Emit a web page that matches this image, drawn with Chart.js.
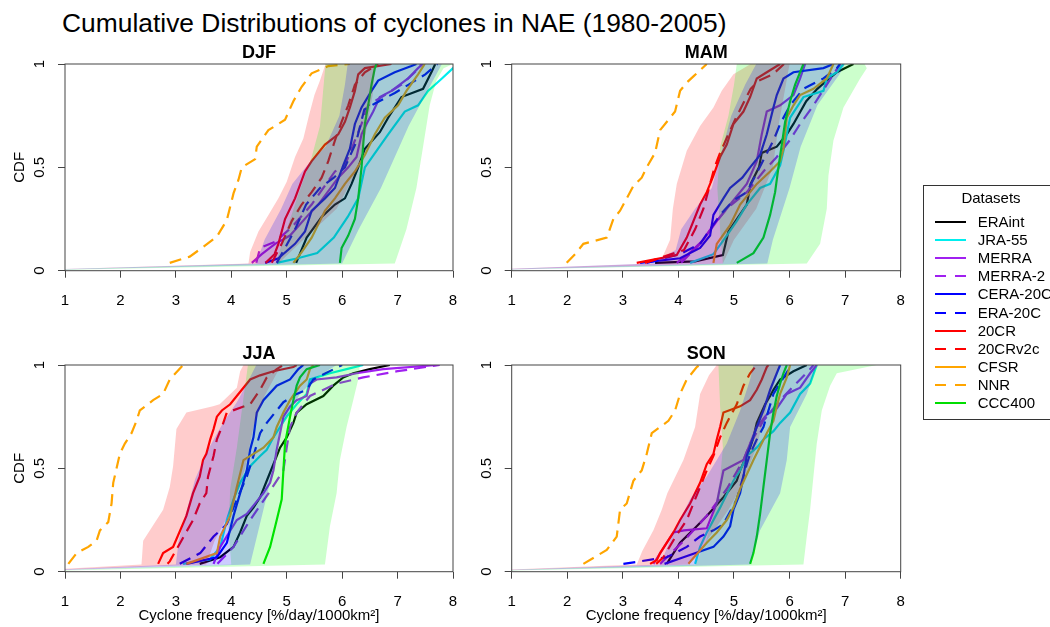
<!DOCTYPE html>
<html><head><meta charset="utf-8">
<script src="https://cdn.jsdelivr.net/npm/chart.js@4.4.0/dist/chart.umd.min.js"></script>
<style>
html,body{margin:0;padding:0;background:#fff;}
body{width:1050px;height:627px;position:relative;overflow:hidden;font-family:"Liberation Sans",Arial,sans-serif;color:#000;}
canvas{position:absolute;}
#title{position:absolute;left:62px;top:8px;font-size:26.4px;line-height:30px;white-space:nowrap;}
#legend{position:absolute;left:923px;top:185px;width:140px;height:235px;border:1px solid #333;box-sizing:border-box;}
.lg{position:absolute;font-size:15px;line-height:18px;white-space:nowrap;}
</style></head>
<body>
<div id="title">Cumulative Distributions of cyclones in NAE (1980-2005)</div>
<canvas id="cDJF" width="480" height="281" style="left:0px;top:35px"></canvas>
<canvas id="cMAM" width="470" height="281" style="left:466px;top:35px"></canvas>
<canvas id="cJJA" width="480" height="291" style="left:0px;top:336px"></canvas>
<canvas id="cSON" width="470" height="291" style="left:466px;top:336px"></canvas>
<div id="legend"></div>
<script>
// ---------- tick values ----------
const X_TICKS = [1, 2, 3, 4, 5, 6, 7, 8];
const Y_TICKS = [0, 0.5, 1];
const SERIES = ['ERAint','JRA-55','MERRA','MERRA-2','CERA-20C','ERA-20C','20CR','20CRv2c','CFSR','NNR','CCC400'];

// ---------- DJF ----------
const DJF_ERAint = [[5.17,.038],[5.36,.16],[5.63,.26],[5.87,.32],[6.05,.35],[6.17,.42],[6.29,.5],[6.41,.59],[6.68,.67],[6.83,.74],[7.07,.84],[7.46,.88],[7.61,.96],[7.68,1]];
const DJF_JRA55 = [[4.82,.038],[5.2,.06],[5.55,.085],[5.85,.16],[6.1,.26],[6.29,.35],[6.41,.5],[6.62,.58],[6.83,.66],[7.13,.77],[7.37,.8],[7.55,.87],[7.8,.93],[8.0,.98],[8.1,1]];
const DJF_MERRA = [[4.37,.038],[4.55,.08],[4.79,.13],[5.06,.17],[5.39,.27],[5.57,.32],[5.93,.45],[6.11,.5],[6.26,.55],[6.35,.66],[6.44,.71],[6.56,.77],[6.68,.84],[6.89,.87],[7.19,.93],[7.37,.98],[7.46,1]];
const DJF_MERRA2 = [[4.45,.038],[4.52,.11],[4.79,.14],[5.09,.21],[5.45,.32],[5.87,.48],[6.05,.51],[6.17,.59],[6.35,.71],[6.47,.8],[6.77,.85],[7.07,.9],[7.31,.96],[7.43,1]];
const DJF_CERA20C = [[4.61,.038],[4.85,.06],[5.15,.13],[5.33,.19],[5.45,.29],[5.69,.35],[5.87,.4],[6.02,.51],[6.14,.59],[6.23,.71],[6.35,.79],[6.53,.87],[6.65,.92],[6.95,.96],[7.25,.99],[7.34,1]];
const DJF_ERA20C = [[4.82,.038],[4.95,.1],[5.15,.2],[5.35,.32],[5.6,.4],[5.85,.45],[6.05,.5],[6.25,.62],[6.4,.78],[6.6,.81],[6.95,.86],[7.2,.9],[7.5,.95],[7.72,1]];
const DJF_20CR = [[4.62,.038],[4.78,.08],[4.85,.13],[4.97,.25],[5.15,.35],[5.33,.48],[5.45,.53],[5.69,.61],[5.93,.66],[6.05,.72],[6.14,.79],[6.23,.87],[6.29,.95],[6.41,.98],[6.89,1]];
const DJF_20CRv2c = [[4.73,.038],[4.91,.13],[5.09,.24],[5.27,.32],[5.45,.38],[5.63,.45],[5.75,.53],[5.87,.63],[5.99,.72],[6.11,.8],[6.23,.9],[6.41,.96],[6.65,1]];
const DJF_CFSR = [[5.12,.038],[5.27,.09],[5.45,.16],[5.69,.29],[5.87,.35],[6.05,.42],[6.23,.48],[6.41,.56],[6.59,.66],[6.77,.74],[7.01,.8],[7.16,.87],[7.37,.95],[7.49,1]];
const DJF_NNR = [[2.89,.038],[3.25,.068],[3.5,.116],[3.74,.165],[3.92,.245],[4.04,.374],[4.13,.44],[4.19,.5],[4.43,.54],[4.46,.6],[4.67,.68],[4.97,.73],[5.12,.82],[5.27,.89],[5.45,.955],[5.75,.99],[6.14,1]];
const DJF_CCC400 = [[5.96,.038],[5.99,.11],[6.11,.17],[6.23,.25],[6.29,.35],[6.35,.5],[6.38,.61],[6.41,.71],[6.47,.8],[6.53,.9],[6.59,.98],[6.62,1]];
// ensemble spreads (left edge / right edge)
const DJF_20CR_LO = [[0,0],[4.31,.035],[4.34,.09],[4.49,.19],[4.67,.27],[4.85,.35],[5.0,.43],[5.15,.55],[5.3,.64],[5.4,.75],[5.5,.85],[5.6,.92],[5.7,1]];
const DJF_20CR_HI = [[0,0],[4.85,.035],[5.3,.15],[5.9,.3],[6.3,.5],[6.45,.7],[6.55,.85],[6.6,1]];
const DJF_CERA_LO = [[0,0],[4.45,.035],[4.6,.15],[4.9,.3],[5.1,.42],[5.4,.52],[5.7,.6],[5.95,.75],[6.05,.9],[6.1,1]];
const DJF_CERA_HI = [[0,0],[6.0,.035],[6.3,.2],[6.7,.4],[6.95,.55],[7.2,.7],[7.5,.85],[7.8,1]];
const DJF_CCC_LO = [[0,0],[4.8,.035],[5.0,.2],[5.25,.4],[5.45,.55],[5.6,.7],[5.65,.85],[5.7,1]];
const DJF_CCC_HI = [[0,0],[6.95,.035],[7.16,.2],[7.34,.4],[7.46,.6],[7.58,.8],[7.7,.92],[7.83,.98],[8.0,1]];

// ---------- MAM ----------
const MAM_ERAint = [[3.58,.038],[4.3,.045],[4.8,.075],[4.9,.19],[5.23,.32],[5.3,.42],[5.45,.5],[5.5,.57],[5.77,.6],[5.95,.66],[6.07,.71],[6.3,.82],[6.5,.88],[6.67,.92],[6.85,.96],[7.15,1]];
const MAM_JRA55 = [[4.21,.038],[4.63,.08],[4.87,.17],[5.05,.24],[5.23,.32],[5.47,.4],[5.65,.42],[5.83,.51],[5.89,.58],[6.01,.74],[6.25,.84],[6.61,.87],[6.67,.93],[6.85,.96],[6.97,1]];
const MAM_MERRA = [[3.97,.038],[4.18,.08],[4.45,.15],[4.69,.24],[4.93,.32],[5.23,.42],[5.41,.53],[5.5,.66],[5.59,.77],[5.83,.8],[6.07,.85],[6.19,.93],[6.28,1]];
const MAM_MERRA2 = [[4.05,.038],[4.39,.13],[4.63,.22],[4.87,.3],[5.23,.38],[5.53,.48],[5.77,.55],[6.0,.63],[6.19,.71],[6.43,.8],[6.67,.9],[6.79,.95],[6.91,1]];
const MAM_CERA20C = [[3.31,.038],[4.03,.06],[4.39,.11],[4.57,.17],[4.63,.27],[4.81,.35],[4.93,.4],[5.15,.45],[5.29,.5],[5.47,.56],[5.59,.66],[5.71,.79],[5.77,.85],[5.89,.93],[6.07,.96],[6.61,.98],[6.79,1]];
const MAM_ERA20C = [[3.43,.038],[4.03,.08],[4.39,.13],[4.75,.27],[4.99,.34],[5.23,.38],[5.5,.52],[5.71,.63],[5.83,.71],[6.01,.8],[6.25,.88],[6.61,.93],[6.85,.98],[6.91,1]];
const MAM_20CR = [[3.25,.038],[3.97,.076],[4.15,.16],[4.27,.24],[4.39,.32],[4.51,.38],[4.63,.46],[4.75,.55],[4.87,.61],[4.99,.71],[5.17,.77],[5.29,.84],[5.41,.93],[5.59,.96],[5.83,1]];
const MAM_20CRv2c = [[3.4,.038],[4.1,.1],[4.3,.2],[4.45,.3],[4.55,.4],[4.65,.5],[4.75,.57],[4.9,.66],[5.0,.72],[5.15,.8],[5.3,.88],[5.45,.92],[5.7,.95],[5.9,1]];
const MAM_CFSR = [[4.63,.038],[4.69,.13],[4.93,.22],[5.11,.32],[5.41,.42],[5.65,.48],[5.83,.53],[5.89,.59],[5.95,.74],[6.07,.8],[6.19,.85],[6.43,.88],[6.67,.93],[6.79,1]];
const MAM_NNR = [[1.99,.038],[2.14,.08],[2.29,.13],[2.71,.16],[2.83,.25],[2.95,.29],[3.19,.41],[3.34,.45],[3.43,.5],[3.58,.57],[3.67,.68],[3.82,.73],[3.94,.77],[4.03,.87],[4.15,.91],[4.27,.94],[4.51,1]];
const MAM_CCC400 = [[5.05,.038],[5.35,.085],[5.53,.16],[5.65,.27],[5.74,.38],[5.8,.5],[5.86,.61],[5.92,.72],[6.01,.82],[6.1,.9],[6.19,.96],[6.25,1]];
const MAM_20CR_LO = [[0,0],[3.6,.035],[3.72,.07],[3.85,.15],[3.9,.3],[3.97,.42],[4.15,.58],[4.39,.7],[4.63,.79],[4.78,.87],[4.99,.95],[5.3,1]];
const MAM_20CR_HI = [[0,0],[4.8,.035],[5.0,.15],[5.4,.3],[5.7,.5],[5.8,.7],[5.9,.85],[6.0,1]];
const MAM_CERA_LO = [[0,0],[3.5,.035],[3.95,.1],[4.05,.2],[4.3,.3],[4.6,.4],[4.75,.55],[4.95,.75],[5.2,.9],[5.4,1]];
const MAM_CERA_HI = [[0,0],[5.6,.035],[5.7,.15],[6.0,.4],[6.2,.6],[6.5,.8],[6.9,.95],[7.0,1]];
const MAM_CCC_LO = [[0,0],[4.8,.035],[4.75,.2],[4.7,.4],[4.75,.6],[4.9,.75],[5.0,.9],[5.05,1]];
const MAM_CCC_HI = [[0,0],[6.31,.035],[6.55,.13],[6.67,.3],[6.7,.46],[6.79,.63],[6.97,.79],[7.27,.93],[7.39,.98],[7.35,1]];

// ---------- JJA ----------
const JJA_ERAint = [[3.43,.038],[3.8,.07],[4.04,.12],[4.16,.19],[4.28,.27],[4.4,.31],[4.52,.36],[4.64,.44],[4.76,.52],[4.88,.6],[5.0,.65],[5.12,.72],[5.18,.77],[5.36,.81],[5.66,.85],[5.84,.9],[6.02,.94],[6.2,.96],[6.5,.98],[6.86,1]];
const JJA_JRA55 = [[3.13,.038],[3.62,.06],[3.8,.12],[3.92,.25],[4.04,.35],[4.16,.43],[4.34,.51],[4.52,.56],[4.64,.59],[4.76,.65],[4.88,.7],[5.0,.75],[5.18,.81],[5.36,.86],[5.42,.93],[5.78,.96],[6.08,.98],[6.38,1]];
const JJA_MERRA = [[3.68,.038],[3.8,.12],[4.1,.25],[4.28,.28],[4.58,.38],[4.7,.43],[4.76,.49],[4.82,.59],[4.94,.75],[5.06,.8],[5.18,.83],[5.36,.85],[5.42,.91],[5.54,.93],[5.9,.94],[6.26,.96],[6.74,.98],[7.71,1]];
const JJA_MERRA2 = [[3.75,.038],[4.04,.12],[4.34,.25],[4.65,.37],[4.94,.49],[5.0,.6],[5.06,.7],[5.18,.77],[5.42,.85],[5.9,.91],[6.38,.94],[7.0,.97],[7.76,1]];
const JJA_CERA20C = [[3.19,.038],[3.74,.07],[3.92,.14],[4.04,.27],[4.16,.38],[4.28,.49],[4.34,.59],[4.4,.65],[4.46,.77],[4.58,.83],[4.82,.9],[5.06,.93],[5.21,.98],[5.3,1]];
const JJA_ERA20C = [[3.07,.038],[3.44,.09],[3.68,.17],[3.92,.23],[4.1,.35],[4.28,.46],[4.4,.56],[4.52,.67],[4.64,.72],[4.94,.82],[5.18,.86],[5.36,.88],[5.48,.93],[5.7,.96],[6.0,1]];
const JJA_20CR = [[2.68,.038],[2.77,.09],[2.95,.12],[3.19,.27],[3.31,.38],[3.43,.46],[3.49,.54],[3.55,.57],[3.62,.64],[3.68,.69],[3.74,.75],[3.83,.78],[3.98,.81],[4.34,.93],[4.52,.95],[4.76,.97],[5.12,.99],[5.18,1]];
const JJA_20CRv2c = [[2.85,.038],[2.89,.05],[3.1,.15],[3.31,.25],[3.43,.33],[3.55,.38],[3.58,.46],[3.68,.56],[3.74,.64],[3.83,.7],[3.92,.77],[4.34,.81],[4.52,.88],[4.64,.94],[4.82,.98],[4.94,1]];
const JJA_CFSR = [[3.19,.038],[3.74,.09],[3.8,.17],[3.98,.27],[4.1,.41],[4.22,.54],[4.58,.6],[4.76,.65],[4.82,.7],[4.94,.77],[5.06,.83],[5.24,.9],[5.36,.93],[5.42,.98],[5.48,1]];
const JJA_NNR = [[1.06,.038],[1.21,.09],[1.42,.12],[1.57,.15],[1.63,.2],[1.78,.24],[1.84,.33],[1.87,.43],[1.99,.57],[2.08,.62],[2.2,.67],[2.29,.73],[2.35,.78],[2.59,.83],[2.77,.86],[2.89,.93],[3.13,1]];
const JJA_CCC400 = [[4.58,.038],[4.7,.12],[4.82,.25],[4.91,.35],[4.94,.49],[4.97,.62],[5.06,.75],[5.12,.83],[5.18,.9],[5.24,.94],[5.36,.98],[5.6,1]];
const JJA_20CR_LO = [[0,0],[2.38,.035],[2.41,.15],[2.77,.3],[2.89,.41],[2.95,.51],[3.01,.69],[3.19,.77],[3.67,.8],[3.79,.81],[4.1,.89],[4.16,.97],[4.22,1]];
const JJA_20CR_HI = [[0,0],[3.55,.035],[3.7,.15],[4.0,.3],[4.25,.5],[4.4,.7],[4.6,.85],[4.9,1]];
const JJA_CERA_LO = [[0,0],[3.0,.035],[3.05,.15],[3.2,.3],[3.35,.45],[3.6,.6],[3.85,.72],[4.1,.82],[4.3,.92],[4.45,1]];
const JJA_CERA_HI = [[0,0],[4.34,.035],[4.58,.3],[4.76,.5],[4.88,.7],[5.24,.86],[5.54,.94],[5.9,1]];
const JJA_CCC_LO = [[0,0],[4.0,.035],[3.95,.2],[3.98,.4],[4.1,.6],[4.2,.8],[4.3,1]];
const JJA_CCC_HI = [[0,0],[5.69,.035],[5.78,.22],[5.9,.38],[5.96,.54],[6.08,.7],[6.2,.83],[6.29,.93],[6.32,1]];

// ---------- SON ----------
const SON_ERAint = [[3.79,.038],[4.03,.14],[4.33,.22],[4.51,.27],[4.81,.36],[4.93,.4],[5.05,.44],[5.11,.49],[5.29,.6],[5.35,.65],[5.41,.72],[5.56,.81],[5.65,.85],[5.71,.88],[5.83,.93],[6.07,.97],[6.31,1]];
const SON_JRA55 = [[4.3,.038],[4.39,.12],[4.51,.19],[4.75,.31],[4.99,.44],[5.11,.49],[5.23,.56],[5.41,.6],[5.53,.64],[5.71,.68],[5.83,.72],[6.01,.77],[6.19,.86],[6.37,.91],[6.49,1]];
const SON_MERRA = [[3.55,.038],[3.91,.19],[4.1,.2],[4.51,.21],[4.69,.33],[4.81,.49],[5.17,.54],[5.29,.62],[5.41,.7],[5.59,.76],[5.77,.79],[5.95,.86],[6.19,.89],[6.37,.96],[6.49,1]];
const SON_MERRA2 = [[3.67,.038],[4.1,.15],[4.51,.27],[4.87,.4],[5.17,.54],[5.29,.62],[5.53,.73],[5.83,.83],[6.19,.93],[6.37,.98],[6.43,1]];
const SON_CERA20C = [[3.75,.038],[4.09,.07],[4.63,.12],[4.81,.17],[4.93,.22],[4.99,.3],[5.11,.38],[5.17,.46],[5.23,.56],[5.41,.7],[5.53,.78],[5.65,.88],[5.77,.96],[5.83,1]];
const SON_ERA20C = [[3.01,.038],[3.31,.05],[3.79,.07],[4.15,.12],[4.39,.17],[4.63,.2],[4.81,.23],[5.05,.35],[5.23,.52],[5.29,.57],[5.41,.64],[5.53,.7],[5.71,.86],[6.01,.99],[6.04,1]];
const SON_20CR = [[3.49,.038],[3.61,.056],[3.67,.09],[3.91,.19],[4.03,.25],[4.21,.33],[4.39,.43],[4.51,.52],[4.63,.57],[4.69,.64],[4.75,.7],[4.81,.77],[5.11,.8],[5.29,.83],[5.41,.88],[5.5,.93],[5.59,.99],[5.62,1]];
const SON_20CRv2c = [[3.6,.038],[3.73,.07],[3.95,.17],[4.15,.25],[4.39,.41],[4.51,.49],[4.63,.56],[4.75,.65],[4.87,.72],[5.05,.81],[5.17,.9],[5.29,.96],[5.41,1]];
const SON_CFSR = [[4.18,.038],[4.51,.14],[4.69,.19],[4.87,.25],[4.99,.31],[5.11,.4],[5.35,.54],[5.59,.67],[5.71,.73],[5.77,.8],[5.83,.86],[5.95,.94],[6.01,1]];
const SON_NNR = [[2.29,.038],[2.71,.105],[2.89,.17],[2.95,.3],[3.07,.33],[3.19,.44],[3.34,.49],[3.43,.57],[3.52,.67],[3.67,.7],[3.82,.73],[3.94,.78],[4.03,.86],[4.15,.93],[4.33,.99],[4.39,1]];
const SON_CCC400 = [[5.29,.038],[5.35,.09],[5.41,.17],[5.47,.28],[5.53,.41],[5.59,.54],[5.65,.67],[5.71,.77],[5.77,.85],[5.83,.91],[5.89,.96],[5.95,1]];
const SON_20CR_LO = [[0,0],[3.25,.035],[3.35,.1],[3.55,.2],[3.7,.3],[3.8,.38],[4.09,.54],[4.3,.7],[4.39,.86],[4.55,.95],[4.69,1]];
const SON_20CR_HI = [[0,0],[4.2,.035],[4.51,.15],[4.9,.3],[5.11,.4],[5.4,.6],[5.6,.8],[5.83,1]];
const SON_CERA_LO = [[0,0],[3.67,.035],[3.91,.19],[4.21,.35],[4.51,.46],[4.69,.54],[4.87,.62],[5.11,.78],[5.29,.93],[5.35,1]];
const SON_CERA_HI = [[0,0],[5.29,.035],[5.47,.2],[5.83,.38],[5.95,.54],[6.01,.7],[6.31,.86],[6.49,1]];
const SON_CCC_LO = [[0,0],[4.3,.035],[4.5,.15],[4.65,.3],[4.75,.45],[4.8,.6],[4.75,.8],[4.72,1]];
const SON_CCC_HI = [[0,0],[6.25,.035],[6.31,.17],[6.37,.3],[6.43,.46],[6.49,.62],[6.58,.78],[6.73,.9],[6.85,.96],[7.57,1]];

// ---------- styles ----------
const FONT = '"Liberation Sans", Arial, Helvetica, sans-serif';
const COLORS = ['#000000','#00EEEE','#A020F0','#A020F0','#0000FF','#0000FF','#FF0000','#FF0000','#FFA500','#FFA500','#00DD00'];
const DASHED = [false,false,false,true,false,true,false,true,false,true,false];
const BAND_COLORS = ['rgba(255,0,0,0.2)','rgba(0,0,255,0.2)','rgba(0,255,0,0.2)'];
const BAND_STACK = [1, 2, 0]; // blue on top, then green, red underneath
const DASH = [12, 7];

const boxPlugin = {
  id: 'box',
  afterDraw(chart) {
    const {ctx, chartArea: a} = chart;
    ctx.save();
    ctx.strokeStyle = '#444';
    ctx.lineWidth = 1;
    ctx.strokeRect(a.left, a.top, a.right - a.left, a.bottom - a.top);
    ctx.restore();
  }
};

function toPts(arr) { return arr.map(p => ({x: p[0], y: p[1]})); }

function makePanel(id, title, lines, bands, cfg) {
  const ds = [];
  BAND_STACK.forEach(i => {
    const b = bands[i];
    ds.push({data: toPts(b[0]), borderColor: 'rgba(0,0,0,0)', borderWidth: 0, pointRadius: 0, fill: '+1', backgroundColor: BAND_COLORS[i]});
    ds.push({data: toPts(b[1]), borderColor: 'rgba(0,0,0,0)', borderWidth: 0, pointRadius: 0, fill: false});
  });
  for (let i = lines.length - 1; i >= 0; i--) {
    ds.push({label: SERIES[i], data: toPts(lines[i]), borderColor: COLORS[i], borderWidth: 2.2,
      borderDash: DASHED[i] ? DASH : [], pointRadius: 0, fill: false, tension: 0});
  }
  const gridCfg = {display: true, drawOnChartArea: false, drawTicks: true, tickLength: 7, color: '#444', lineWidth: 1};
  new Chart(document.getElementById(id), {
    type: 'line',
    data: {datasets: ds},
    options: {
      indexAxis: 'y', responsive: false, animation: false, events: [],
      layout: {padding: {left: 0, right: cfg.padRight, top: 0, bottom: 0}},
      plugins: {
        legend: {display: false}, tooltip: {enabled: false},
        title: {display: true, text: title, fullSize: false, color: '#000',
          font: {size: 18, weight: 'bold', family: FONT, lineHeight: 1.2}, padding: {top: 7, bottom: 0.4}}
      },
      scales: {
        x: {type: 'linear', position: 'bottom', min: 1, max: 8,
          afterBuildTicks: s => { s.ticks = X_TICKS.map(v => ({value: v})); },
          afterFit: s => { s.height = cfg.xH; },
          grid: gridCfg, border: {display: false},
          ticks: {font: {size: 15, family: FONT}, color: '#000', padding: 14, maxRotation: 0, minRotation: 0, callback: v => String(v)},
          title: {display: cfg.xTitle, text: 'Cyclone frequency [%/day/1000km²]', color: '#000',
            font: {size: 15, family: FONT}, padding: {top: 0, bottom: 2}}},
        y: {type: 'linear', position: 'left', min: 0, max: 1,
          afterBuildTicks: s => { s.ticks = Y_TICKS.map(v => ({value: v})); },
          afterFit: s => { s.width = cfg.yW; },
          grid: gridCfg, border: {display: false},
          ticks: {font: {size: 15, family: FONT}, color: '#000', padding: 7.6, minRotation: 90, maxRotation: 90, crossAlign: 'center', callback: v => String(v)},
          title: {display: cfg.yTitle, text: 'CDF', color: '#000', font: {size: 15, family: FONT}, padding: {top: 11.3, bottom: 0}}}
      }
    },
    plugins: [boxPlugin]
  });
}

makePanel('cDJF', 'DJF',
  [DJF_ERAint, DJF_JRA55, DJF_MERRA, DJF_MERRA2, DJF_CERA20C, DJF_ERA20C, DJF_20CR, DJF_20CRv2c, DJF_CFSR, DJF_NNR, DJF_CCC400],
  [[DJF_20CR_LO, DJF_20CR_HI], [DJF_CERA_LO, DJF_CERA_HI], [DJF_CCC_LO, DJF_CCC_HI]],
  {padRight: 27, yW: 65, xH: 45.3, yTitle: true, xTitle: false});
makePanel('cMAM', 'MAM',
  [MAM_ERAint, MAM_JRA55, MAM_MERRA, MAM_MERRA2, MAM_CERA20C, MAM_ERA20C, MAM_20CR, MAM_20CRv2c, MAM_CFSR, MAM_NNR, MAM_CCC400],
  [[MAM_20CR_LO, MAM_20CR_HI], [MAM_CERA_LO, MAM_CERA_HI], [MAM_CCC_LO, MAM_CCC_HI]],
  {padRight: 35.3, yW: 45.7, xH: 45.3, yTitle: false, xTitle: false});
makePanel('cJJA', 'JJA',
  [JJA_ERAint, JJA_JRA55, JJA_MERRA, JJA_MERRA2, JJA_CERA20C, JJA_ERA20C, JJA_20CR, JJA_20CRv2c, JJA_CFSR, JJA_NNR, JJA_CCC400],
  [[JJA_20CR_LO, JJA_20CR_HI], [JJA_CERA_LO, JJA_CERA_HI], [JJA_CCC_LO, JJA_CCC_HI]],
  {padRight: 27, yW: 65, xH: 55.3, yTitle: true, xTitle: true});
makePanel('cSON', 'SON',
  [SON_ERAint, SON_JRA55, SON_MERRA, SON_MERRA2, SON_CERA20C, SON_ERA20C, SON_20CR, SON_20CRv2c, SON_CFSR, SON_NNR, SON_CCC400],
  [[SON_20CR_LO, SON_20CR_HI], [SON_CERA_LO, SON_CERA_HI], [SON_CCC_LO, SON_CCC_HI]],
  {padRight: 35.3, yW: 45.7, xH: 55.3, yTitle: false, xTitle: true});

// ---------- legend ----------
(function () {
  const body = document.body;
  const t = document.createElement('div');
  t.className = 'lg';
  t.style.left = '923px'; t.style.width = '136px'; t.style.textAlign = 'center'; t.style.top = '189px';
  t.textContent = 'Datasets';
  body.appendChild(t);
  SERIES.forEach((name, i) => {
    const yc = 222.3 + 18.04 * i;
    const svg = document.createElementNS('http://www.w3.org/2000/svg', 'svg');
    svg.setAttribute('width', '31'); svg.setAttribute('height', '4');
    svg.style.position = 'absolute'; svg.style.left = '935px'; svg.style.top = (yc - 2) + 'px';
    const ln = document.createElementNS('http://www.w3.org/2000/svg', 'line');
    ln.setAttribute('x1', '0'); ln.setAttribute('y1', '2'); ln.setAttribute('x2', '31'); ln.setAttribute('y2', '2');
    ln.setAttribute('stroke', COLORS[i]); ln.setAttribute('stroke-width', '2');
    if (DASHED[i]) ln.setAttribute('stroke-dasharray', '11 9');
    svg.appendChild(ln);
    body.appendChild(svg);
    const s = document.createElement('div');
    s.className = 'lg';
    s.style.left = '977.7px'; s.style.top = (yc - 9) + 'px';
    s.textContent = name;
    body.appendChild(s);
  });
})();
</script>
</body></html>
